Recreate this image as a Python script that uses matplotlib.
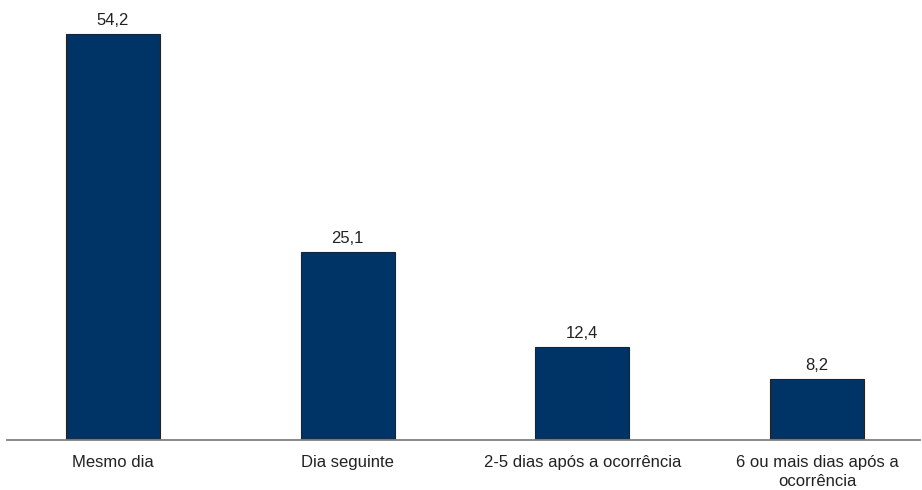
import matplotlib.pyplot as plt

plt.rcParams['font.family'] = ['Liberation Sans', 'DejaVu Sans']

categories = ['Mesmo dia', 'Dia seguinte', '2-5 dias após a ocorrência',
              '6 ou mais dias após a\nocorrência']
values = [54.2, 25.1, 12.4, 8.2]
value_labels = ['54,2', '25,1', '12,4', '8,2']

fig = plt.figure(figsize=(9.22, 4.9), dpi=100)
ax = fig.add_axes([0.0076, 0.102, 0.9902, 0.898])

x = range(len(categories))
bars = ax.bar(x, values, 0.4, color='#003366', edgecolor='#222222', linewidth=0.8)

for b, lab in zip(bars, value_labels):
    ax.text(b.get_x() + b.get_width() / 2, b.get_height() + 0.8, lab,
            ha='center', va='bottom', fontsize=12, color='#222222')

ax.set_xlim(-0.451, 3.438)
ax.set_ylim(0, 58.7)
ax.set_xticks(list(x))
ax.set_xticklabels(categories, fontsize=12, color='#222222', linespacing=1.3)
ax.tick_params(axis='x', length=0, pad=11)
ax.set_yticks([])
for side in ['top', 'left', 'right']:
    ax.spines[side].set_visible(False)
ax.spines['bottom'].set_color('#808080')
ax.spines['bottom'].set_linewidth(1.3)

fig.savefig('out.png', dpi=100)
